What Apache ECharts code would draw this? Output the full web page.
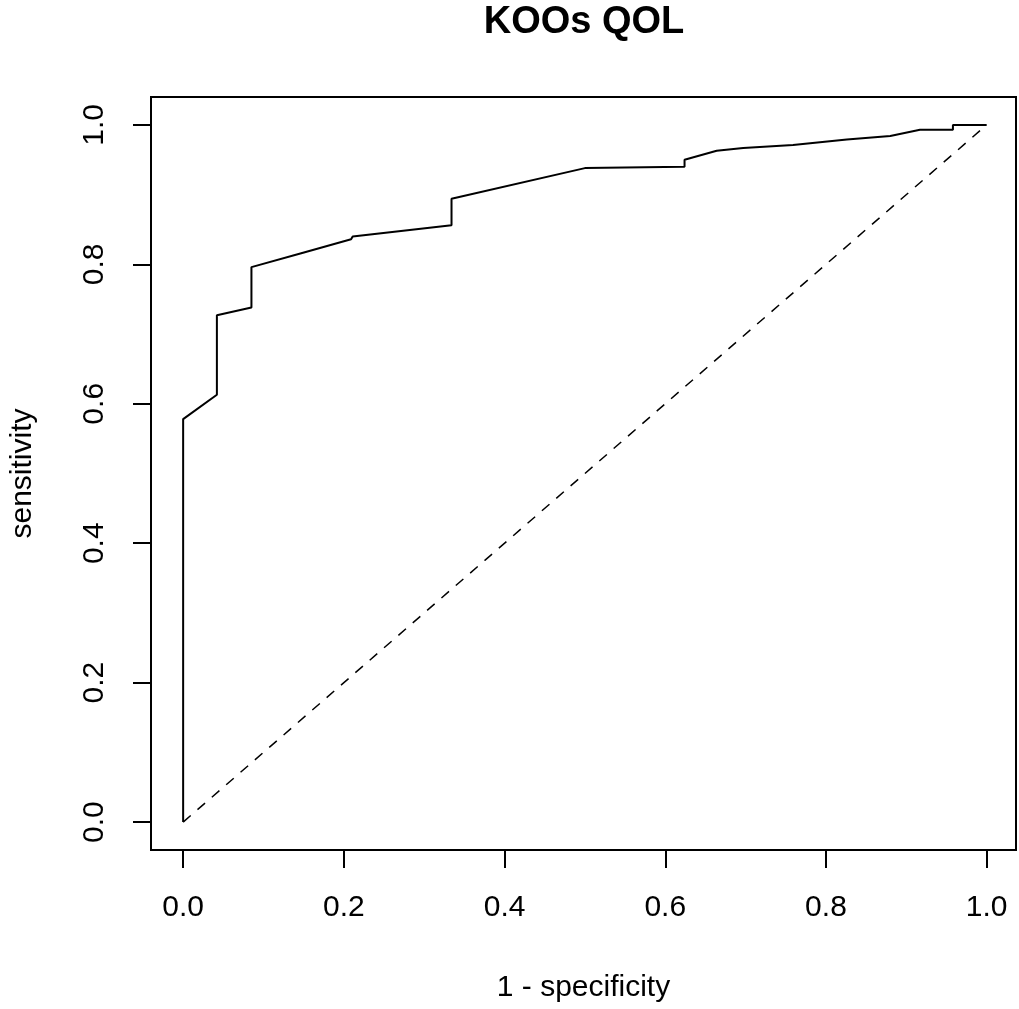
<!DOCTYPE html>
<html>
<head>
<meta charset="utf-8">
<script src="https://cdn.jsdelivr.net/npm/echarts@6/dist/echarts.min.js"></script>
<style>html,body{margin:0;padding:0;background:#fff}#c{width:1019px;height:1009px}</style>
</head>
<body>
<div id="c"></div>
<script>
// ROC curve: 1 - specificity (x) vs sensitivity (y)
var fpr = [0, 0, 0.042, 0.042, 0.085, 0.085, 0.147, 0.209, 0.211, 0.334, 0.334, 0.500, 0.500, 0.624, 0.624, 0.664, 0.697, 0.759, 0.826, 0.880, 0.917, 0.958, 0.958, 1.0];
var tpr = [0, 0.578, 0.613, 0.727, 0.738, 0.796, 0.816, 0.836, 0.840, 0.856, 0.894, 0.938, 0.940, 0.940, 0.950, 0.963, 0.967, 0.971, 0.979, 0.984, 0.993, 0.993, 1.0, 1.0];
var refX = [0, 1];
var refY = [0, 1];
var tickValues = [0, 0.2, 0.4, 0.6, 0.8, 1.0];
var titleText = 'KOOs QOL';
var xName = '1 - specificity';
var yName = 'sensitivity';

var FONT = 'Liberation Sans, Arial, sans-serif';
var chart = echarts.init(document.getElementById('c'), null, {renderer: 'canvas'});
var curve = fpr.map(function (v, i) { return [v, tpr[i]]; });
var diag = refX.map(function (v, i) { return [v, refY[i]]; });

function axisCommon(isY) {
  return {
    type: 'value',
    min: -0.04,
    max: isY ? 1.04 : 1.0365,
    axisLine: {show: false, onZero: false},
    axisTick: {show: true, inside: false, length: 18, customValues: tickValues, lineStyle: {color: '#000', width: 2}},
    axisLabel: {
      show: true, customValues: tickValues, color: '#000', fontSize: 30, fontFamily: FONT,
      margin: isY ? 41 : 43, rotate: isY ? 90 : 0,
      formatter: function (v) { return v.toFixed(1); }
    },
    splitLine: {show: false},
    nameLocation: 'middle',
    nameTextStyle: {color: '#000', fontSize: 30, fontFamily: FONT},
    nameGap: isY ? 113 : 123,
    name: isY ? yName : xName
  };
}

chart.setOption({
  animation: false,
  backgroundColor: '#fff',
  grid: {left: 150, right: 3, top: 97, bottom: 159, show: true, borderColor: '#000', borderWidth: 2, backgroundColor: 'transparent'},
  xAxis: axisCommon(false),
  yAxis: axisCommon(true),
  graphic: [{
    type: 'text', x: 584, y: 23,
    style: {text: titleText, align: 'center', verticalAlign: 'middle', font: 'bold 38px ' + FONT, fill: '#000'}
  }],
  series: [
    {type: 'line', data: curve, showSymbol: false, symbol: 'none', lineStyle: {color: '#000', width: 2}, z: 3},
    {type: 'line', data: diag, showSymbol: false, symbol: 'none', lineStyle: {color: '#000', width: 1.5, type: [10, 9]}, z: 2}
  ]
});
</script>
</body>
</html>
